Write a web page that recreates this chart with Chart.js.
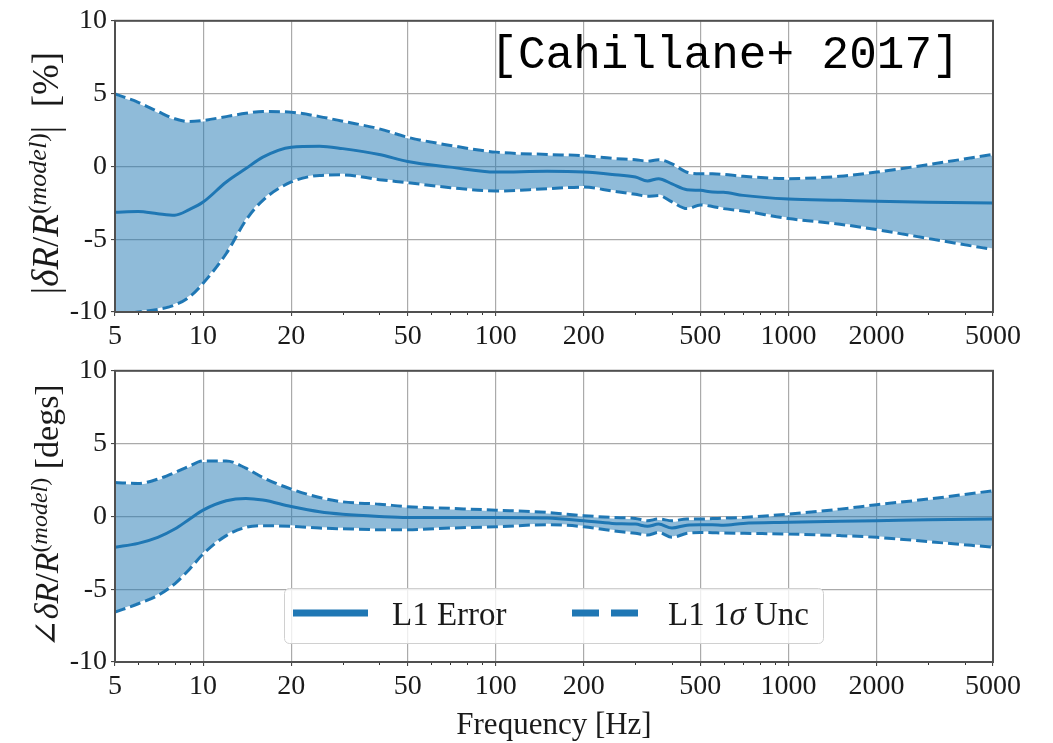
<!DOCTYPE html>
<html>
<head>
<meta charset="utf-8">
<script src="https://cdn.jsdelivr.net/npm/chart.js@4.4.0/dist/chart.umd.min.js"></script>
<style>
  html, body { margin: 0; padding: 0; background: #fff; }
  #wrap { position: relative; width: 1053px; height: 743px; }
  canvas { position: absolute; left: 0; }
</style>
</head>
<body>
<div id="wrap">
  <canvas id="magChart" width="1053" height="350" style="top:0"></canvas>
  <canvas id="phaseChart" width="1053" height="393" style="top:350px"></canvas>
</div>
<script>
// frequencies (Hz)
const freq = [5, 6, 7, 8, 9, 10, 12, 14, 16, 20, 25, 30, 40, 50, 70, 100, 150, 200, 250, 300, 330, 360, 400, 450, 500, 550, 600, 700, 1000, 1500, 2000, 3000, 5000];

// magnitude error [%]
const magErr = [-3.15, -3.1, -3.25, -3.35, -2.95, -2.45, -1.07, -0.15, 0.64, 1.32, 1.39, 1.22, 0.82, 0.34, -0.05, -0.39, -0.34, -0.39, -0.55, -0.73, -1.0, -0.84, -1.2, -1.6, -1.64, -1.76, -1.78, -1.99, -2.24, -2.33, -2.4, -2.47, -2.51];
const magUp  = [4.98, 4.4, 3.77, 3.27, 3.08, 3.15, 3.42, 3.65, 3.77, 3.72, 3.42, 3.1, 2.58, 2.0, 1.44, 0.98, 0.82, 0.73, 0.55, 0.46, 0.36, 0.46, 0.18, -0.4, -0.5, -0.5, -0.55, -0.68, -0.84, -0.68, -0.39, 0.12, 0.82];
const magLo  = [-10.2, -10.0, -9.82, -9.52, -8.95, -8.03, -5.98, -3.7, -2.33, -1.07, -0.62, -0.58, -0.91, -1.12, -1.46, -1.69, -1.53, -1.42, -1.69, -1.92, -2.05, -2.0, -2.44, -2.9, -2.65, -2.75, -2.9, -3.06, -3.58, -3.97, -4.34, -4.95, -5.71];

// phase error [degs]
const phaseErr = [-2.12, -1.85, -1.44, -0.87, -0.18, 0.43, 1.07, 1.23, 1.12, 0.68, 0.32, 0.15, 0.0, -0.07, -0.07, -0.07, -0.11, -0.3, -0.48, -0.53, -0.68, -0.53, -0.8, -0.6, -0.57, -0.57, -0.6, -0.48, -0.41, -0.34, -0.3, -0.23, -0.18];
const phaseUp  = [2.33, 2.26, 2.56, 3.01, 3.47, 3.81, 3.81, 3.31, 2.67, 1.87, 1.3, 1.0, 0.84, 0.66, 0.55, 0.43, 0.27, 0.05, -0.07, -0.14, -0.3, -0.18, -0.3, -0.18, -0.18, -0.15, -0.12, -0.07, 0.16, 0.5, 0.8, 1.19, 1.76];
const phaseLo  = [-6.58, -6.0, -5.43, -4.63, -3.61, -2.58, -1.32, -0.75, -0.64, -0.68, -0.8, -0.85, -0.91, -0.91, -0.8, -0.71, -0.57, -0.71, -0.98, -1.16, -1.28, -1.1, -1.44, -1.16, -1.1, -1.12, -1.14, -1.16, -1.21, -1.32, -1.44, -1.73, -2.12];

// axes
const xTicks = [5, 10, 20, 50, 100, 200, 500, 1000, 2000, 5000];
const xMinor = [6, 7, 8, 9, 30, 40, 60, 70, 80, 90, 300, 400, 600, 700, 800, 900, 3000, 4000];
const yTicks = [-10, -7.5, -5, -2.5, 0, 2.5, 5, 7.5, 10];

const C0 = '#1f77b4';
const SERIF = '"Liberation Serif", "DejaVu Serif", serif';
const TEXT = '#1a1a1a';

const pts = arr => freq.map((f, i) => ({ x: f, y: arr[i] }));

function bandDatasets(err, up, lo) {
  const base = { pointRadius: 0, cubicInterpolationMode: 'monotone', fill: false };
  return [
    { ...base, label: 'L1 Error', data: pts(err), borderColor: C0, borderWidth: 3 },
    { ...base, label: 'L1 1σ Unc', data: pts(up), borderColor: C0, borderWidth: 3, borderDash: [11, 5] },
    { ...base, label: 'lo', data: pts(lo), borderColor: C0, borderWidth: 3, borderDash: [11, 5] },
    { ...base, label: 'edgeUp', data: pts(up), borderColor: '#ffffff', borderWidth: 2 },
    { ...base, label: 'edgeLo', data: pts(lo), borderColor: '#ffffff', borderWidth: 2,
      fill: '-1', backgroundColor: 'rgba(31,119,180,0.5)' }
  ];
}

function drawRich(ctx, parts, cx, cy, size) {
  ctx.save();
  ctx.translate(cx, cy);
  ctx.rotate(-Math.PI / 2);
  const fontOf = p => (p[1] ? 'italic ' : '') + (p[2] ? Math.round(size * 0.7) : size) + 'px ' + SERIF;
  let total = 0;
  const widths = parts.map(p => { ctx.font = fontOf(p); const w = ctx.measureText(p[0]).width; total += w; return w; });
  let x = -total / 2;
  ctx.textBaseline = 'alphabetic';
  ctx.textAlign = 'left';
  ctx.fillStyle = TEXT;
  parts.forEach((p, i) => {
    ctx.font = fontOf(p);
    ctx.fillText(p[0], x, p[2] ? -size * 0.32 : 0);
    x += widths[i];
  });
  ctx.restore();
}

const framePlugin = {
  id: 'frame',
  afterDatasetsDraw(chart) {
    const { ctx, chartArea: a } = chart;
    const x = chart.scales.x;
    ctx.save();
    ctx.strokeStyle = '#333';
    ctx.lineWidth = 1;
    xMinor.forEach(v => {
      const px = Math.round(x.getPixelForValue(v)) + 0.5;
      ctx.beginPath();
      ctx.moveTo(px, a.bottom);
      ctx.lineTo(px, a.bottom + 3);
      ctx.stroke();
    });
    ctx.strokeStyle = '#505050';
    ctx.lineWidth = 2;
    ctx.strokeRect(a.left, a.top, a.right - a.left, a.bottom - a.top);
    ctx.restore();
  }
};

function makeOptions(xHeight, withTitle) {
  return {
    responsive: false,
    animation: false,
    layout: { padding: { left: 0, right: 60, top: 20, bottom: 0 } },
    plugins: { legend: { display: false }, tooltip: { enabled: false } },
    scales: {
      x: {
        type: 'logarithmic', min: 5, max: 5000,
        afterBuildTicks: s => { s.ticks = xTicks.map(v => ({ value: v })); },
        afterFit: s => { s.height = xHeight; },
        ticks: { callback: v => String(v), font: { family: SERIF, size: 28 }, color: TEXT,
                 padding: 4, maxRotation: 0, autoSkip: false },
        grid: { color: '#aaaaaa', lineWidth: 1.2, tickLength: 4, tickColor: '#333', tickWidth: 1 },
        border: { display: false },
        title: {
          display: withTitle, text: 'Frequency [Hz]', color: TEXT,
          font: { family: SERIF, size: 31, lineHeight: 1.1 }, padding: { top: 0, bottom: 0 }
        }
      },
      y: {
        min: -10, max: 10,
        afterBuildTicks: s => { s.ticks = yTicks.map(v => ({ value: v })); },
        afterFit: s => { s.width = 115; },
        ticks: { callback: v => (v % 5 === 0 ? String(v) : ''), font: { family: SERIF, size: 28 },
                 color: TEXT, padding: 4 },
        grid: { color: '#aaaaaa', lineWidth: 1.2, tickLength: 4, tickColor: '#333', tickWidth: 1 },
        border: { display: false }
      }
    }
  };
}

// magnitude panel
const magChart = new Chart(document.getElementById('magChart'), {
  type: 'line',
  data: { datasets: bandDatasets(magErr, magUp, magLo) },
  options: makeOptions(38, false),
  plugins: [framePlugin, {
    id: 'magText',
    afterDraw(chart) {
      const ctx = chart.ctx;
      drawRich(ctx, [['|', 0, 0], ['δR', 1, 0], ['/', 0, 0], ['R', 1, 0], ['(', 0, 1], ['model', 1, 1],
                     [')', 0, 1], ['|', 0, 0], ['  [%]', 0, 0]], 58, 173, 37);
      ctx.save();
      ctx.font = '46px "Liberation Mono", "DejaVu Sans Mono", monospace';
      ctx.fillStyle = '#000';
      ctx.textAlign = 'center';
      ctx.textBaseline = 'alphabetic';
      ctx.fillText('[Cahillane+ 2017]', 725, 68);
      ctx.restore();
    }
  }]
});

// phase panel
const phaseChart = new Chart(document.getElementById('phaseChart'), {
  type: 'line',
  data: { datasets: bandDatasets(phaseErr, phaseUp, phaseLo) },
  options: makeOptions(81, true),
  plugins: [framePlugin, {
    id: 'phaseText',
    afterDraw(chart) {
      const ctx = chart.ctx;
      drawRich(ctx, [['∠', 0, 0], ['δR', 1, 0], ['/', 0, 0], ['R', 1, 0], ['(', 0, 1], ['model', 1, 1],
                     [')', 0, 1], [' [degs]', 0, 0]], 58, 166, 34);
      // legend
      ctx.save();
      ctx.fillStyle = 'rgba(255,255,255,0.8)';
      ctx.strokeStyle = '#d0d0d0';
      ctx.lineWidth = 1;
      ctx.beginPath();
      ctx.roundRect(284.5, 238.5, 539, 55, 5);
      ctx.fill();
      ctx.stroke();
      ctx.strokeStyle = C0;
      ctx.lineWidth = 7;
      ctx.beginPath(); ctx.moveTo(293, 263); ctx.lineTo(368, 263); ctx.stroke();
      ctx.setLineDash([27, 12]);
      ctx.beginPath(); ctx.moveTo(572, 263); ctx.lineTo(647, 263); ctx.stroke();
      ctx.setLineDash([]);
      ctx.restore();
      const leg = (parts, x0) => {
        ctx.save();
        ctx.fillStyle = TEXT;
        ctx.textBaseline = 'alphabetic';
        let x = x0;
        parts.forEach(p => {
          ctx.font = (p[1] ? 'italic ' : '') + '33px ' + SERIF;
          ctx.fillText(p[0], x, 275);
          x += ctx.measureText(p[0]).width;
        });
        ctx.restore();
      };
      leg([['L1 Error', 0]], 392);
      leg([['L1 1', 0], ['σ', 1], [' Unc', 0]], 668);
    }
  }]
});
</script>
</body>
</html>
